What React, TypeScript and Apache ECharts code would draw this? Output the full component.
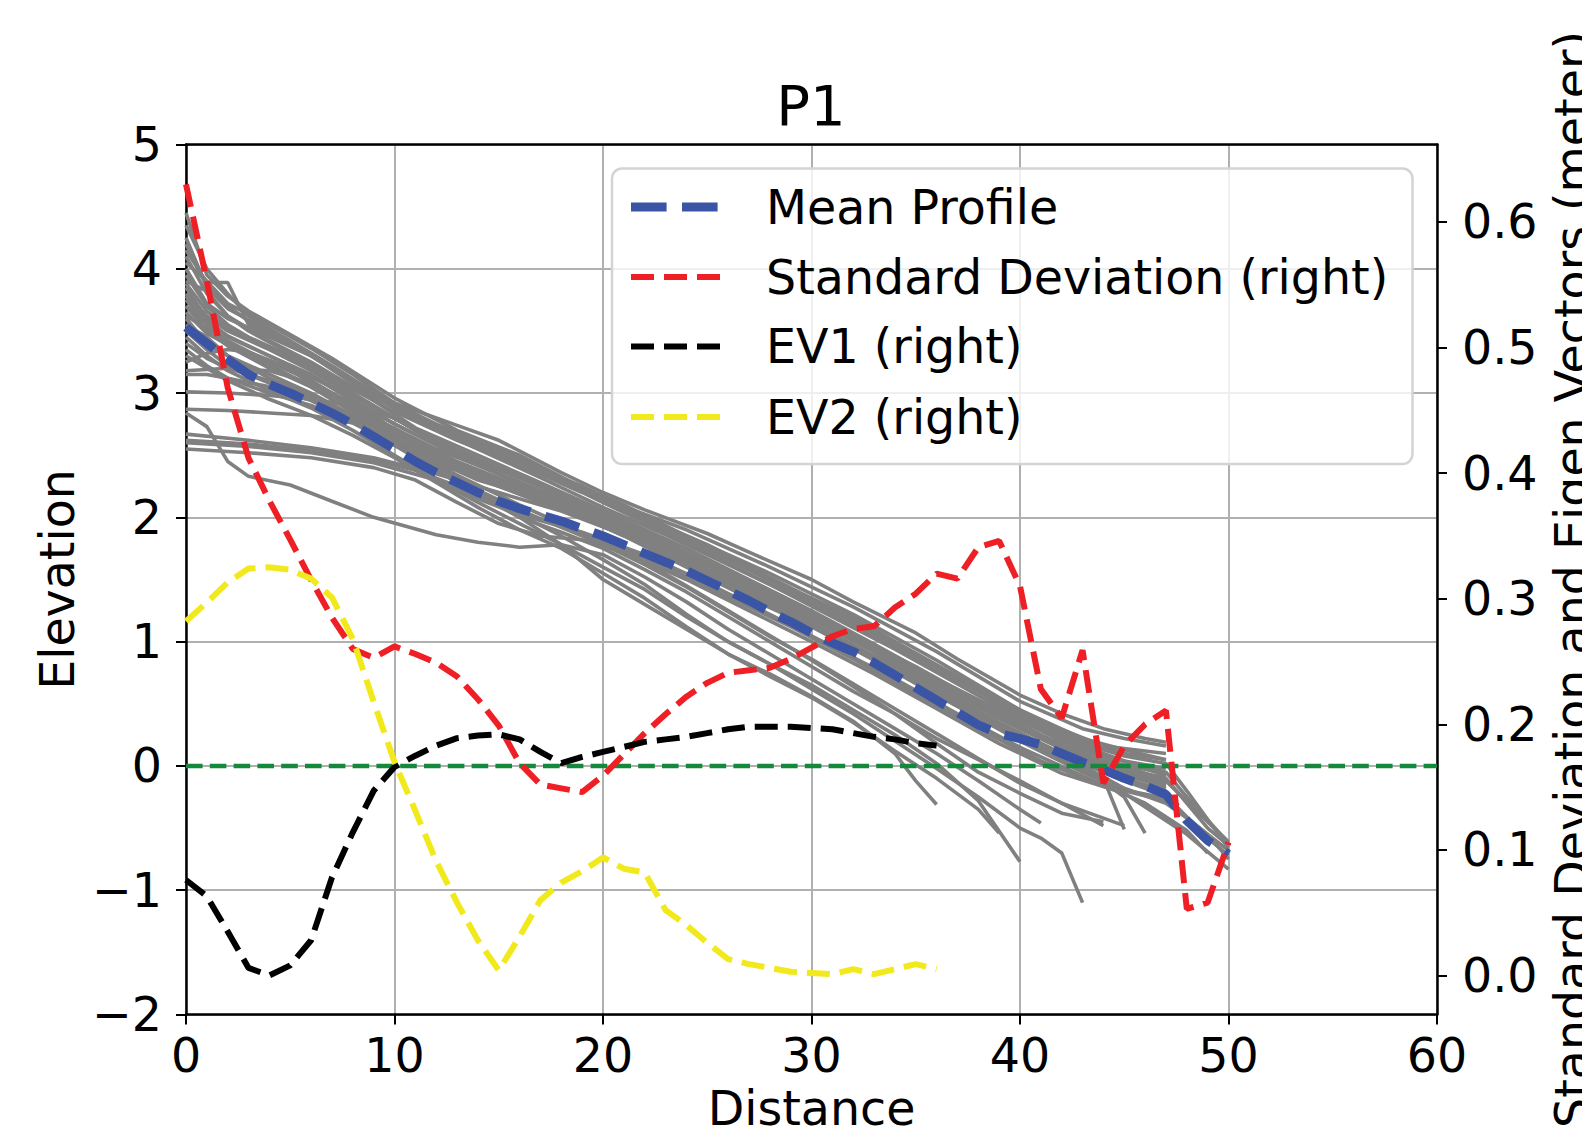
import React, { useEffect, useRef } from "react";
import * as echarts from "echarts";

const FONT = "DejaVu Sans";

// Distance grid 0..50 (step 1)
const meanProfile = [3.53, 3.40, 3.27, 3.15, 3.07, 3.00, 2.92, 2.84, 2.75, 2.65, 2.55, 2.45, 2.36, 2.28, 2.20, 2.13, 2.07, 2.02, 1.97, 1.91, 1.85, 1.78, 1.71, 1.64, 1.57, 1.49, 1.41, 1.33, 1.24, 1.16, 1.07, 0.99, 0.92, 0.83, 0.73, 0.63, 0.53, 0.43, 0.33, 0.26, 0.22, 0.17, 0.10, 0.03, -0.03, -0.10, -0.16, -0.23, -0.44, -0.60, -0.71];
const stdDev = [0.630, 0.553, 0.468, 0.412, 0.378, 0.347, 0.315, 0.285, 0.260, 0.253, 0.262, 0.256, 0.249, 0.238, 0.220, 0.199, 0.169, 0.152, 0.149, 0.146, 0.159, 0.176, 0.193, 0.208, 0.222, 0.233, 0.241, 0.243, 0.245, 0.252, 0.261, 0.270, 0.276, 0.278, 0.293, 0.304, 0.320, 0.316, 0.341, 0.346, 0.310, 0.228, 0.205, 0.259, 0.153, 0.183, 0.200, 0.211, 0.053, 0.058, 0.106];
// Distance grid 0..36
const ev1 = [0.076, 0.063, 0.035, 0.006, 0.000, 0.008, 0.028, 0.078, 0.114, 0.147, 0.166, 0.175, 0.183, 0.189, 0.191, 0.192, 0.188, 0.178, 0.169, 0.174, 0.178, 0.182, 0.186, 0.188, 0.190, 0.193, 0.196, 0.198, 0.198, 0.198, 0.197, 0.196, 0.193, 0.190, 0.188, 0.185, 0.183];
const ev2 = [0.282, 0.297, 0.313, 0.324, 0.325, 0.323, 0.316, 0.301, 0.268, 0.218, 0.170, 0.131, 0.091, 0.058, 0.028, 0.004, 0.031, 0.060, 0.074, 0.083, 0.094, 0.085, 0.082, 0.052, 0.040, 0.026, 0.013, 0.009, 0.006, 0.003, 0.002, 0.001, 0.005, 0.001, 0.005, 0.009, 0.005];

// Individual surveyed profiles: [distance, elevation]
const profiles: number[][][] = [
  [[0,4.05],[1,3.9],[2,3.72],[4,3.55],[6,3.36],[8,3.15],[10,2.92],[13,2.74],[15,2.62],[18,2.36],[20,2.2],[22,2.06],[25,1.87],[27,1.72],[30,1.5],[32,1.32],[35,1.07],[37,0.86],[40,0.57],[42,0.42],[44,0.3],[46,0.22],[47,0.19]],
  [[0,4.45],[1,3.95],[2,3.78],[3,3.66],[5,3.47],[7,3.28],[10,2.96],[13,2.7],[16,2.5],[20,2.15],[24,1.9],[28,1.6],[32,1.28],[36,0.92],[40,0.52],[43,0.3],[45,0.22],[47,0.16]],
  [[0,4.25],[1,3.85],[2,3.68],[4,3.5],[6,3.32],[9,3.0],[12,2.75],[15,2.55],[18,2.32],[21,2.1],[24,1.85],[28,1.55],[32,1.22],[36,0.85],[40,0.45],[43,0.22],[45,0.13],[47,0.05]],
  [[0,4.15],[1,3.89],[2,3.89],[3,3.55],[5,3.4],[8,3.1],[11,2.82],[14,2.6],[17,2.38],[20,2.12],[24,1.82],[28,1.5],[32,1.2],[36,0.8],[40,0.4],[44,0.08],[47,-0.05],[48,-0.25],[50,-0.62]],
  [[0,4.0],[1,3.72],[2,3.6],[4,3.45],[6,3.3],[8,3.08],[11,2.78],[14,2.55],[17,2.32],[20,2.08],[23,1.86],[26,1.62],[29,1.38],[32,1.12],[35,0.86],[38,0.6],[41,0.32],[44,0.1],[47,-0.08]],
  [[0,3.9],[1,3.82],[2,3.62],[3,3.5],[5,3.32],[8,3.05],[11,2.72],[14,2.5],[17,2.28],[20,2.05],[23,1.8],[26,1.56],[29,1.32],[32,1.05],[35,0.8],[38,0.52],[41,0.25],[44,0.02],[47,-0.14]],
  [[0,3.8],[1,3.62],[2,3.5],[4,3.35],[6,3.18],[9,2.88],[12,2.62],[15,2.4],[18,2.2],[21,1.98],[24,1.75],[27,1.5],[30,1.25],[33,0.98],[36,0.7],[39,0.45],[42,0.2],[45,0.0],[47,-0.12],[49,-0.45],[50,-0.61]],
  [[0,3.7],[1,3.55],[2,3.42],[4,3.25],[6,3.1],[9,2.8],[12,2.55],[15,2.35],[18,2.15],[21,1.92],[24,1.68],[27,1.42],[30,1.18],[33,0.92],[36,0.62],[39,0.35],[42,0.1],[45,-0.1],[47,-0.22]],
  [[0,3.65],[1,3.48],[3,3.3],[5,3.18],[7,3.0],[10,2.7],[13,2.45],[16,2.25],[19,2.05],[22,1.82],[25,1.58],[28,1.33],[31,1.06],[34,0.8],[37,0.52],[40,0.25],[43,0.0],[45,-0.18],[47,-0.3],[48,-0.42],[50,-0.68]],
  [[0,3.6],[1,3.4],[2,3.3],[4,3.15],[6,3.0],[8,2.82],[11,2.55],[14,2.32],[17,2.12],[20,1.95],[23,1.72],[26,1.47],[29,1.22],[32,0.97],[35,0.7],[38,0.42],[41,0.15],[43,0.0],[45,-0.25],[46,-0.54]],
  [[0,3.5],[1,3.35],[2,3.22],[4,3.08],[6,2.95],[9,2.7],[12,2.48],[15,2.28],[18,2.08],[21,1.85],[24,1.6],[27,1.35],[30,1.12],[33,0.85],[36,0.57],[39,0.3],[42,0.05],[44,-0.1],[45,-0.51]],
  [[0,3.25],[1,3.32],[2,3.35],[3,3.33],[5,3.2],[7,3.05],[10,2.75],[13,2.5],[16,2.28],[19,2.06],[22,1.84],[25,1.6],[28,1.36],[31,1.1],[34,0.84],[37,0.56],[40,0.3],[43,0.06],[45,-0.08],[47,-0.16]],
  [[0,3.18],[2,3.2],[4,3.18],[6,3.08],[8,2.92],[10,2.7],[12,2.5],[15,2.3],[18,2.1],[21,1.9],[24,1.66],[27,1.42],[30,1.18],[33,0.92],[36,0.65],[39,0.38],[42,0.14],[44,0.0],[47,-0.18]],
  [[0,3.01],[2,3.0],[4,2.98],[6,2.95],[8,2.9],[10,2.8],[12,2.6],[14,2.42],[17,2.2],[20,1.98],[23,1.76],[26,1.52],[29,1.28],[32,1.02],[35,0.76],[38,0.5],[41,0.24],[44,0.02],[47,-0.1]],
  [[0,2.87],[2,2.86],[4,2.84],[6,2.82],[8,2.76],[10,2.62],[12,2.45],[14,2.3],[16,2.2],[19,2.02],[22,1.8],[25,1.55],[28,1.3],[31,1.04],[34,0.76],[37,0.48],[40,0.2],[43,-0.05],[45,-0.2],[47,-0.28],[49,-0.55],[50,-0.75]],
  [[0,2.67],[3,2.62],[6,2.56],[9,2.48],[12,2.35],[15,2.2],[18,2.05],[21,1.86],[24,1.62],[27,1.38],[30,1.14],[33,0.88],[36,0.6],[39,0.32],[42,0.08],[45,-0.1],[47,-0.2]],
  [[0,2.6],[3,2.57],[6,2.52],[9,2.44],[12,2.3],[14,2.15],[16,2.02],[19,1.88],[22,1.7],[25,1.47],[28,1.22],[31,0.96],[34,0.7],[37,0.42],[40,0.15],[43,-0.08],[46,-0.3],[48,-0.52],[49,-0.7]],
  [[0,2.55],[3,2.52],[6,2.48],[9,2.4],[11,2.3],[13,2.12],[15,1.95],[17,1.85],[19,1.82],[21,1.72],[24,1.5],[27,1.25],[30,1.0],[33,0.74],[36,0.46],[39,0.18],[42,-0.06],[45,-0.22],[48,-0.55],[50,-0.83]],
  [[0,2.84],[1,2.73],[2,2.45],[3,2.33],[5,2.26],[7,2.13],[9,2.0],[12,1.86],[14,1.8],[16,1.76],[18,1.78],[20,1.7],[22,1.52],[24,1.32],[26,1.1],[28,0.9],[30,0.7],[32,0.5],[34,0.3],[36,0.1],[38,-0.12],[40,-0.35],[41,-0.46]],
  [[0,3.85],[1,3.6],[2,3.45],[4,3.3],[6,3.15],[8,2.95],[10,2.7],[12,2.45],[14,2.22],[16,2.0],[18,1.78],[20,1.5],[22,1.3],[24,1.1],[26,0.9],[28,0.74],[30,0.56],[32,0.36],[34,0.1],[35,-0.12],[36,-0.31]],
  [[0,3.75],[1,3.55],[2,3.4],[4,3.22],[6,3.05],[8,2.85],[10,2.62],[12,2.4],[14,2.2],[16,2.02],[18,1.85],[20,1.66],[22,1.46],[24,1.22],[26,1.0],[28,0.82],[30,0.65],[32,0.45],[34,0.25],[36,0.02],[38,-0.28],[40,-0.77]],
  [[0,3.45],[1,3.3],[2,3.18],[4,3.02],[6,2.88],[8,2.7],[10,2.5],[12,2.3],[14,2.12],[16,1.95],[18,1.78],[20,1.6],[22,1.42],[24,1.2],[26,1.0],[28,0.82],[30,0.62],[32,0.42],[34,0.2],[36,-0.02],[38,-0.25],[40,-0.5],[41,-0.58],[42,-0.7],[43,-1.1]],
  [[0,3.3],[1,3.2],[2,3.1],[4,2.95],[6,2.82],[8,2.66],[10,2.48],[12,2.28],[14,2.08],[16,1.9],[18,1.75],[20,1.55],[22,1.35],[24,1.12],[26,0.9],[28,0.72],[30,0.55],[32,0.35],[34,0.12],[36,-0.1],[38,-0.35],[39,-0.54]],
  [[0,3.55],[1,3.45],[2,3.3],[4,3.12],[6,2.98],[8,2.8],[10,2.58],[12,2.38],[14,2.18],[16,2.0],[18,1.88],[20,1.75],[22,1.58],[24,1.4],[26,1.2],[28,1.0],[30,0.8],[32,0.6],[34,0.42],[36,0.22],[38,0.05],[40,-0.12],[42,-0.3],[44,-0.48]],
  [[0,3.95],[1,3.7],[2,3.55],[3,3.45],[5,3.3],[7,3.12],[10,2.85],[13,2.62],[16,2.42],[19,2.2],[22,1.96],[25,1.72],[28,1.46],[31,1.2],[34,0.94],[37,0.66],[40,0.38],[43,0.14],[45,0.04],[47,-0.02]],
  [[0,4.35],[1,4.0],[2,3.8],[3,3.62],[5,3.42],[7,3.22],[10,2.9],[13,2.66],[16,2.45],[19,2.25],[22,2.0],[25,1.78],[28,1.52],[31,1.26],[34,1.0],[37,0.72],[40,0.45],[43,0.2],[45,0.1],[47,0.05]],
  [[0,3.4],[1,3.28],[2,3.2],[4,3.1],[6,2.98],[8,2.82],[10,2.64],[12,2.46],[15,2.25],[18,2.06],[21,1.88],[24,1.64],[27,1.4],[30,1.15],[33,0.88],[36,0.6],[39,0.34],[42,0.1],[45,-0.12],[47,-0.24],[49,-0.58],[50,-0.72]],
  [[0,3.7],[1,3.5],[2,3.38],[4,3.2],[6,3.05],[9,2.75],[12,2.5],[15,2.3],[18,2.12],[21,1.9],[24,1.68],[27,1.44],[30,1.2],[33,0.95],[36,0.68],[39,0.42],[42,0.16],[44,0.0],[47,-0.15]],
  [[0,4.1],[1,3.8],[2,3.62],[4,3.42],[6,3.25],[8,3.05],[11,2.8],[14,2.58],[17,2.36],[20,2.14],[23,1.92],[26,1.68],[29,1.42],[32,1.16],[35,0.9],[38,0.62],[41,0.36],[44,0.16],[47,0.1]],
  [[0,3.62],[1,3.52],[2,3.4],[4,3.22],[7,2.98],[10,2.68],[13,2.42],[16,2.2],[19,2.0],[22,1.78],[25,1.55],[28,1.3],[31,1.04],[34,0.78],[37,0.5],[40,0.24],[43,0.02],[45,-0.12],[47,-0.2]],
  [[0,3.88],[1,3.66],[2,3.52],[4,3.36],[6,3.2],[8,3.0],[11,2.7],[14,2.46],[17,2.25],[20,2.02],[23,1.78],[26,1.54],[29,1.3],[32,1.04],[35,0.78],[38,0.5],[41,0.24],[44,0.04],[47,-0.06]],
  [[0,3.35],[1,3.22],[2,3.12],[4,3.0],[6,2.9],[8,2.76],[10,2.58],[12,2.4],[14,2.22],[16,2.06],[18,1.92],[20,1.78],[22,1.62],[24,1.44],[26,1.24],[28,1.04],[30,0.86],[32,0.66],[34,0.46],[36,0.26],[38,0.06],[40,-0.14],[42,-0.3],[44,-0.42],[45,-0.48]],
  [[0,4.2],[1,3.86],[2,3.7],[3,3.58],[5,3.4],[7,3.2],[10,2.88],[13,2.64],[16,2.43],[19,2.22],[22,1.98],[25,1.75],[28,1.49],[31,1.23],[34,0.97],[37,0.69],[40,0.42],[43,0.18],[45,0.08],[47,0.02],[48,-0.2],[50,-0.66]],
  [[0,2.62],[3,2.59],[6,2.54],[9,2.46],[11,2.38],[13,2.25],[15,2.1],[17,1.98],[20,1.82],[23,1.6],[26,1.36],[29,1.12],[32,0.86],[35,0.58],[38,0.3],[41,0.04],[44,-0.16],[47,-0.26]],
  [[0,3.15],[1,3.15],[2,3.12],[4,3.05],[6,2.94],[8,2.78],[10,2.6],[12,2.42],[14,2.26],[16,2.1],[18,1.95],[20,1.8],[22,1.64],[24,1.45],[26,1.25],[28,1.05],[30,0.85],[32,0.64],[34,0.42],[36,0.18],[38,-0.05],[40,-0.22],[42,-0.38],[44,-0.45]],
  [[0,3.78],[1,3.58],[2,3.46],[4,3.3],[6,3.14],[9,2.84],[12,2.58],[15,2.38],[18,2.18],[21,1.95],[24,1.72],[27,1.46],[30,1.22],[33,0.96],[36,0.66],[39,0.4],[42,0.14],[45,-0.04],[47,-0.1],[49,-0.5],[50,-0.64]],
];

const xTicks = { min: 0, max: 60, interval: 10 };
const leftTicks = { min: -2, max: 5, interval: 1 };
const rightTickValues = [0, 0.1, 0.2, 0.3, 0.4, 0.5, 0.6];
const rightRange = { min: -0.0311, max: 0.6617 };

const legendItems = [
  { name: "Mean Profile", color: "#3a54a6", width: 9, dash: [35.6, 15.4] },
  { name: "Standard Deviation (right)", color: "#ee1f25", width: 6, dash: [23, 10] },
  { name: "EV1 (right)", color: "#000000", width: 6, dash: [23, 10] },
  { name: "EV2 (right)", color: "#f2e91c", width: 6, dash: [23, 10] },
];

const withIndex = (arr: number[]) => arr.map((v, i) => [i, v]);

export default function App() {
  const ref = useRef<HTMLDivElement>(null);
  useEffect(() => {
    if (!ref.current) return;
    const chart = echarts.init(ref.current, null, { renderer: "svg" });
    const fs = 47.5;
    const axisLabelBase = { fontSize: fs, color: "#000", fontFamily: FONT };
    const legendGraphics: any[] = [
      {
        type: "rect",
        z: 100,
        shape: { x: 612, y: 168.5, width: 800.5, height: 295.5, r: 10 },
        style: { fill: "rgba(255,255,255,0.8)", stroke: "#d4d4d4", lineWidth: 2.5 },
      },
    ];
    const rowY = [207, 277, 346.5, 417];
    legendItems.forEach((it, i) => {
      legendGraphics.push({
        type: "line",
        z: 101,
        shape: { x1: 631, y1: rowY[i], x2: 725, y2: rowY[i] },
        style: { stroke: it.color, lineWidth: it.width, lineDash: it.dash, lineCap: "butt" },
      });
      legendGraphics.push({
        type: "text",
        z: 101,
        x: 766,
        y: rowY[i],
        style: { text: it.name, fontSize: fs, fontFamily: FONT, fill: "#000", verticalAlign: "middle", align: "left" },
      });
    });

    const series: any[] = profiles.map((p, i) => ({
      name: "profile" + (i + 1),
      type: "line",
      data: p,
      xAxisIndex: 0,
      yAxisIndex: 0,
      symbol: "none",
      silent: true,
      lineStyle: { color: "#808080", width: 3.6 },
      z: 2,
    }));
    series.push({
      name: "Mean Profile",
      type: "line",
      data: withIndex(meanProfile),
      symbol: "none",
      xAxisIndex: 0,
      yAxisIndex: 0,
      lineStyle: { color: legendItems[0].color, width: 9, type: legendItems[0].dash },
      z: 3,
    });
    series.push({
      name: "zero",
      type: "line",
      data: [[0, 0], [60, 0]],
      symbol: "none",
      xAxisIndex: 0,
      yAxisIndex: 0,
      lineStyle: { color: "#15893b", width: 4.5, type: [16.6, 7.2] },
      z: 3,
    });
    series.push({
      name: "Standard Deviation (right)",
      type: "line",
      data: withIndex(stdDev),
      symbol: "none",
      xAxisIndex: 0,
      yAxisIndex: 1,
      lineStyle: { color: legendItems[1].color, width: 6, type: legendItems[1].dash },
      z: 4,
    });
    series.push({
      name: "EV1 (right)",
      type: "line",
      data: withIndex(ev1),
      symbol: "none",
      xAxisIndex: 0,
      yAxisIndex: 1,
      lineStyle: { color: legendItems[2].color, width: 6, type: legendItems[2].dash },
      z: 4,
    });
    series.push({
      name: "EV2 (right)",
      type: "line",
      data: withIndex(ev2),
      symbol: "none",
      xAxisIndex: 0,
      yAxisIndex: 1,
      lineStyle: { color: legendItems[3].color, width: 6, type: legendItems[3].dash },
      z: 4,
    });

    chart.setOption({
      animation: false,
      backgroundColor: "#ffffff",
      textStyle: { fontFamily: FONT },
      title: {
        text: "P1",
        left: 811,
        top: 77,
        textAlign: "center",
        padding: 0,
        textStyle: { fontSize: 56, fontWeight: "normal", fontFamily: FONT, color: "#000" },
      },
      grid: { left: 186, right: 145, top: 144.5, bottom: 125.5, containLabel: false, outerBoundsMode: "none" },
      xAxis: [
        {
          type: "value",
          position: "bottom",
          min: xTicks.min,
          max: xTicks.max,
          interval: xTicks.interval,
          name: "Distance",
          nameLocation: "middle",
          nameGap: 73,
          nameTextStyle: { fontSize: fs, fontFamily: FONT, color: "#000", lineHeight: 38 },
          axisLine: { show: true, onZero: false, lineStyle: { color: "#000", width: 2.5 } },
          axisTick: { show: true, inside: false, length: 10, lineStyle: { color: "#000", width: 2 } },
          axisLabel: { ...axisLabelBase, margin: 17 },
          splitLine: { show: true, lineStyle: { color: "#b0b0b0", width: 2 } },
        },
        {
          type: "value",
          position: "top",
          min: xTicks.min,
          max: xTicks.max,
          axisLine: { show: true, onZero: false, lineStyle: { color: "#000", width: 2.5 } },
          axisTick: { show: false },
          axisLabel: { show: false },
          splitLine: { show: false },
        },
      ],
      yAxis: [
        {
          type: "value",
          position: "left",
          min: leftTicks.min,
          max: leftTicks.max,
          interval: leftTicks.interval,
          name: "Elevation",
          nameLocation: "middle",
          nameRotate: 90,
          nameGap: 104,
          nameTextStyle: { fontSize: fs, fontFamily: FONT, color: "#000" },
          axisLine: { show: true, onZero: false, lineStyle: { color: "#000", width: 2.5 } },
          axisTick: { show: true, inside: false, length: 10, lineStyle: { color: "#000", width: 2 } },
          axisLabel: {
            ...axisLabelBase,
            margin: 24,
            formatter: (v: number) => String(v).replace("-", "\u2212"),
          },
          splitLine: { show: true, lineStyle: { color: "#b0b0b0", width: 2 } },
        },
        {
          type: "value",
          position: "right",
          min: rightRange.min,
          max: rightRange.max,
          name: "Standard Deviation and Eigen Vectors (meter)",
          nameLocation: "middle",
          nameRotate: 90,
          nameGap: 100,
          nameTextStyle: { fontSize: fs, fontFamily: FONT, color: "#000" },
          axisLine: { show: true, onZero: false, lineStyle: { color: "#000", width: 2.5 } },
          axisTick: {
            show: true,
            inside: false,
            length: 10,
            customValues: rightTickValues,
            lineStyle: { color: "#000", width: 2 },
          },
          axisLabel: {
            ...axisLabelBase,
            margin: 25,
            customValues: rightTickValues,
            formatter: (v: number) => v.toFixed(1),
          },
          splitLine: { show: false },
        },
      ],
      graphic: legendGraphics,
      series,
    });
    return () => chart.dispose();
  }, []);
  return (
    <div
      ref={ref}
      style={{ position: "absolute", left: 0, top: 0, width: 1582, height: 1140, background: "#fff" }}
    />
  );
}
